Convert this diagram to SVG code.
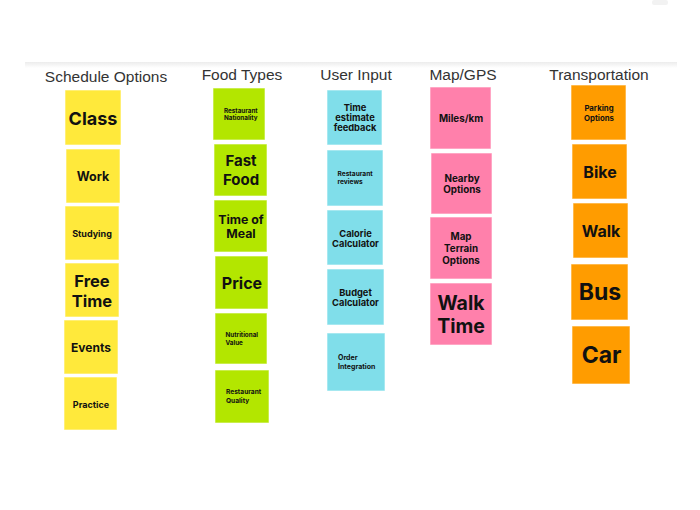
<svg xmlns="http://www.w3.org/2000/svg" width="700" height="510" viewBox="0 0 700 510">
<defs>
<linearGradient id="band" x1="0" y1="0" x2="0" y2="1">
<stop offset="0" stop-color="#ececec"/>
<stop offset="1" stop-color="#ffffff"/>
</linearGradient>
<style>
.hd{font-family:"Liberation Sans",Arial,sans-serif;font-size:15.5px;fill:#333;text-anchor:middle}
.t{font-family:Inter,"Liberation Sans",sans-serif;font-weight:700;fill:#111;text-anchor:middle;dominant-baseline:central}
.l{text-anchor:start}
.s{stroke:#ffffff;stroke-opacity:0.6;stroke-width:1}
.y{fill:#ffe93b}
.g{fill:#b3e600}
.b{fill:#80deea}
.p{fill:#ff80ab}
.o{fill:#ff9c00}
</style>
</defs>
<rect width="700" height="510" fill="#ffffff"/>
<rect x="25" y="62" width="652" height="6" fill="url(#band)"/>
<rect x="652" y="0" width="16" height="5" rx="2" fill="#f2f2f2"/>
<g id="headers">
<text class="hd" x="106" y="82">Schedule Options</text>
<text class="hd" x="242" y="80">Food Types</text>
<text class="hd" x="356" y="80">User Input</text>
<text class="hd" x="463" y="80">Map/GPS</text>
<text class="hd" x="599" y="80">Transportation</text>
</g>
<!-- Schedule Options -->
<g id="class"><rect class="y s" x="65" y="90" width="56" height="55"/><text class="t" x="93" y="118" font-size="18">Class</text></g>
<g id="work"><rect class="y s" x="66" y="149" width="54" height="54"/><text class="t" x="93" y="176" font-size="12.5">Work</text></g>
<g id="studying"><rect class="y s" x="65" y="206" width="54" height="54"/><text class="t" x="92" y="233" font-size="9">Studying</text></g>
<g id="free-time"><rect class="y s" x="65" y="263" width="54" height="54"/><text class="t" x="92" y="280.5" font-size="16.5">Free</text><text class="t" x="92" y="300.5" font-size="16.5">Time</text></g>
<g id="events"><rect class="y s" x="64" y="320" width="54" height="54"/><text class="t" x="91" y="347" font-size="12">Events</text></g>
<g id="practice"><rect class="y s" x="64" y="377" width="53" height="53"/><text class="t" x="91" y="404" font-size="9">Practice</text></g>
<!-- Food Types -->
<g id="restaurant-nationality"><rect class="g s" x="213" y="88" width="52" height="52"/><text class="t l" x="224" y="110.5" font-size="6.3">Restaurant</text><text class="t l" x="224" y="118.3" font-size="6.3">Nationality</text></g>
<g id="fast-food"><rect class="g s" x="214" y="144" width="53" height="52"/><text class="t" x="241" y="160.5" font-size="15">Fast</text><text class="t" x="241" y="179.5" font-size="15">Food</text></g>
<g id="time-of-meal"><rect class="g s" x="214" y="200" width="53" height="52"/><text class="t" x="241" y="219" font-size="12.3">Time of</text><text class="t" x="241" y="233.5" font-size="12.3">Meal</text></g>
<g id="price"><rect class="g s" x="215" y="256" width="53" height="53"/><text class="t" x="242" y="283" font-size="16">Price</text></g>
<g id="nutritional-value"><rect class="g s" x="215" y="313" width="52" height="51"/><text class="t l" x="225.5" y="335.3" font-size="6.3">Nutritional</text><text class="t l" x="225.5" y="343" font-size="6.3">Value</text></g>
<g id="restaurant-quality"><rect class="g s" x="215" y="370" width="54" height="53"/><text class="t l" x="226" y="392.3" font-size="6.6">Restaurant</text><text class="t l" x="226" y="400.5" font-size="6.6">Quality</text></g>
<!-- User Input -->
<g id="time-estimate-feedback"><rect class="b s" x="327" y="90" width="55" height="55"/><text class="t" x="355" y="107.5" font-size="9.3">Time</text><text class="t" x="355" y="117.5" font-size="9.3">estimate</text><text class="t" x="355" y="127.5" font-size="9.3">feedback</text></g>
<g id="restaurant-reviews"><rect class="b s" x="327" y="150" width="56" height="56"/><text class="t l" x="337.5" y="174" font-size="6.6">Restaurant</text><text class="t l" x="337.5" y="182.3" font-size="6.6">reviews</text></g>
<g id="calorie-calculator"><rect class="b s" x="327" y="210" width="56" height="55"/><text class="t" x="355.5" y="233" font-size="9.3">Calorie</text><text class="t" x="355.5" y="243.3" font-size="9.3">Calculator</text></g>
<g id="budget-calculator"><rect class="b s" x="327" y="269" width="57" height="56"/><text class="t" x="355.5" y="292.3" font-size="9.3">Budget</text><text class="t" x="355.5" y="302.3" font-size="9.3">Calculator</text></g>
<g id="order-integration"><rect class="b s" x="327" y="333" width="58" height="58"/><text class="t l" x="338" y="357.8" font-size="7">Order</text><text class="t l" x="338" y="366.3" font-size="7">Integration</text></g>
<!-- Map/GPS -->
<g id="miles-km"><rect class="p s" x="430" y="87" width="61" height="62"/><text class="t" x="461" y="118" font-size="9.8">Miles/km</text></g>
<g id="nearby-options"><rect class="p s" x="431" y="153" width="61" height="61"/><text class="t" x="462" y="178.3" font-size="9.8">Nearby</text><text class="t" x="462" y="189.3" font-size="9.8">Options</text></g>
<g id="map-terrain-options"><rect class="p s" x="430" y="217" width="62" height="62"/><text class="t" x="461" y="236.7" font-size="9.8">Map</text><text class="t" x="461" y="248.3" font-size="9.8">Terrain</text><text class="t" x="461" y="260.3" font-size="9.8">Options</text></g>
<g id="walk-time"><rect class="p s" x="430" y="283" width="62" height="62"/><text class="t" x="461" y="302.5" font-size="19.5">Walk</text><text class="t" x="461" y="325.5" font-size="19.5">Time</text></g>
<!-- Transportation -->
<g id="parking-options"><rect class="o s" x="571" y="85" width="55" height="55"/><text class="t" x="599" y="108.3" font-size="7.8">Parking</text><text class="t" x="599" y="117.7" font-size="7.8">Options</text></g>
<g id="bike"><rect class="o s" x="572" y="144" width="55" height="55"/><text class="t" x="600" y="171.7" font-size="16">Bike</text></g>
<g id="walk"><rect class="o s" x="573" y="203" width="55" height="55"/><text class="t" x="601" y="231" font-size="16">Walk</text></g>
<g id="bus"><rect class="o s" x="571" y="264" width="57" height="56"/><text class="t" x="600" y="292.3" font-size="23">Bus</text></g>
<g id="car"><rect class="o s" x="572" y="326" width="58" height="58"/><text class="t" x="601.5" y="355.3" font-size="23">Car</text></g>
<g id="connectors"/>
</svg>
